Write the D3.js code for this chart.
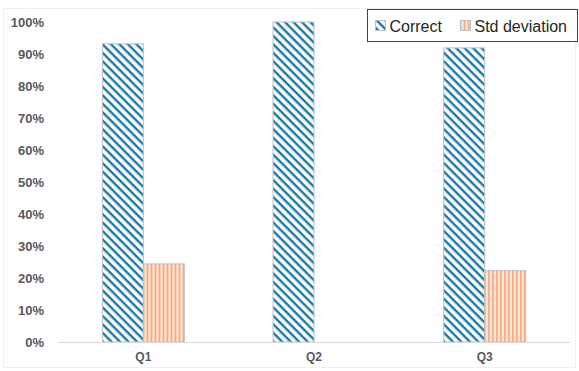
<!DOCTYPE html>
<html>
<head>
<meta charset="utf-8">
<script src="https://cdn.jsdelivr.net/npm/d3@7"></script>
<style>
  html, body { margin: 0; padding: 0; background: #fff; }
  svg { display: block; }
</style>
</head>
<body>
<svg id="chart" width="579" height="371"></svg>
<script>
// Data
const categories = ["Q1", "Q2", "Q3"];
const seriesNames = ["Correct", "Std deviation"];
const correct = [93.2, 100, 91.9];
const stdDeviation = [24.4, 0, 22.3];
const yTicks = [0, 10, 20, 30, 40, 50, 60, 70, 80, 90, 100];

const W = 579, H = 371;
const margin = { top: 22, right: 9, bottom: 29, left: 58 };

const svg = d3.select("#chart");

// Patterns for the two series
const defs = svg.append("defs");
const blue = "#1b79a5";
const orange = "#f4ad85";

const diag = defs.append("pattern")
  .attr("id", "pat-correct")
  .attr("patternUnits", "userSpaceOnUse")
  .attr("width", 6).attr("height", 6)
  .attr("patternTransform", "rotate(45)");
diag.append("rect").attr("width", 6).attr("height", 6).attr("fill", "#fff");
diag.append("rect").attr("x", 0).attr("y", 0).attr("width", 6).attr("height", 2.4).attr("fill", blue);

const vert = defs.append("pattern")
  .attr("id", "pat-std")
  .attr("patternUnits", "userSpaceOnUse")
  .attr("width", 4).attr("height", 4);
vert.append("rect").attr("width", 4).attr("height", 4).attr("fill", "#fff4ee");
vert.append("rect").attr("x", 0).attr("width", 2.3).attr("height", 4).attr("fill", orange);

const fills = ["url(#pat-correct)", "url(#pat-std)"];

// Chart area border
svg.append("rect")
  .attr("x", 3.5).attr("y", 8.5)
  .attr("width", W - 7).attr("height", H - 12)
  .attr("fill", "none").attr("stroke", "#f0f0f0");

const x0 = d3.scaleBand()
  .domain(categories)
  .range([margin.left, W - margin.right])
  .paddingInner(0.52).paddingOuter(0.26);

const x1 = d3.scaleBand()
  .domain(seriesNames)
  .range([0, x0.bandwidth()])
  .padding(0);

const y = d3.scaleLinear()
  .domain([0, 100])
  .range([H - margin.bottom, margin.top]);

// Y axis labels
const yAxis = d3.axisLeft(y)
  .tickValues(yTicks)
  .tickFormat(d => d + "%")
  .tickSize(0)
  .tickPadding(0);
const yg = svg.append("g")
  .attr("transform", `translate(44,0)`)
  .call(yAxis);
yg.select(".domain").remove();
yg.selectAll("text")
  .attr("fill", "#595959")
  .style("font-family", "'Liberation Sans', Arial, sans-serif")
  .style("font-weight", "bold")
  .style("font-size", "13px");

// Bars
const rows = categories.map((c, i) => ({ cat: c, values: [correct[i], stdDeviation[i]] }));
const groups = svg.append("g").selectAll("g")
  .data(rows).join("g")
  .attr("transform", d => `translate(${x0(d.cat)},0)`);

groups.selectAll("rect")
  .data(d => d.values.map((v, j) => ({ key: seriesNames[j], v, j })).filter(e => e.v > 0))
  .join("rect")
  .attr("x", d => x1(d.key))
  .attr("y", d => y(d.v))
  .attr("width", x1.bandwidth())
  .attr("height", d => y(0) - y(d.v))
  .attr("fill", d => fills[d.j])
  .attr("stroke", "#bfbfbf")
  .attr("stroke-width", 1);

// X axis
const xAxis = d3.axisBottom(x0).tickSize(0).tickPadding(10);
const xg = svg.append("g")
  .attr("transform", `translate(0,${y(0)})`)
  .call(xAxis);
xg.select(".domain").attr("stroke", "#d9d9d9").attr("d", `M${margin.left},0.5H${W - margin.right}`);
xg.selectAll("text")
  .attr("fill", "#595959")
  .style("font-family", "'Liberation Sans', Arial, sans-serif")
  .style("font-weight", "bold")
  .style("font-size", "12px");

// Legend
const legend = svg.append("g").attr("transform", "translate(367.5,9.5)");
legend.append("rect")
  .attr("width", 210).attr("height", 32)
  .attr("fill", "#fff").attr("stroke", "#404040").attr("stroke-width", 1);
const legendItems = [
  { name: seriesNames[0], x: 8 },
  { name: seriesNames[1], x: 93 }
];
legendItems.forEach((it, j) => {
  legend.append("rect")
    .attr("x", it.x).attr("y", 11)
    .attr("width", 10).attr("height", 10)
    .attr("fill", fills[j]).attr("stroke", "#bfbfbf");
  legend.append("text")
    .attr("x", it.x + 14).attr("y", 22)
    .attr("fill", "#262626")
    .style("font-family", "'Liberation Sans', Arial, sans-serif")
    .style("font-size", "16px")
    .text(it.name);
});
</script>
</body>
</html>
